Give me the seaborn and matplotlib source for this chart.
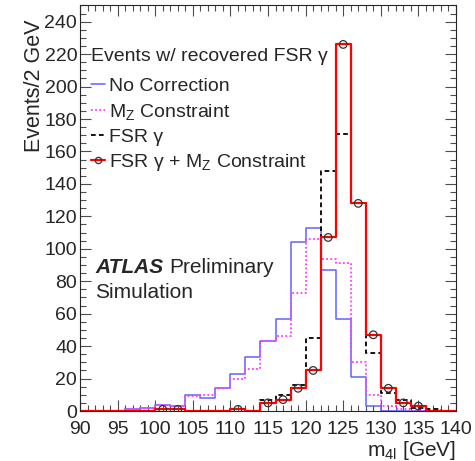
import numpy as np
import pandas as pd
import matplotlib
matplotlib.use("Agg")
import matplotlib.pyplot as plt
from matplotlib.lines import Line2D
from matplotlib.ticker import MultipleLocator
import seaborn as sns

# ---- data (2 GeV bins from 90 to 140 GeV) ----
bin_edges = list(range(90, 142, 2))
no_correction = [0, 0, 0, 1, 2, 4, 3, 10, 8, 14, 23, 33, 43, 57, 104, 113, 87, 57, 21, 3, 0, 0, 0, 0, 0]
mz_constraint = [0, 0, 0, 1, 2, 4, 3, 9, 10, 14, 20, 26, 43, 46, 73, 106, 94, 91, 30, 10, 3, 1, 0, 0, 0]
fsr_gamma = [0, 0, 0, 0, 0, 1, 1, 0, 0, 0, 1, 0, 7, 10, 16, 45, 148, 171, 128, 36, 11, 7, 2, 1, 0]
fsr_gamma_mz = [0, 0, 0, 0, 0, 1, 1, 0, 0, 0, 1, 0, 5, 7, 14, 25, 107, 226, 128, 47, 14, 5, 3, 0, 0]

legend_title = "Events w/ recovered FSR \u03b3"
series_labels = ["No Correction", "M$_{\\rm Z}$ Constraint", "FSR \u03b3",
                 "FSR \u03b3 + M$_{\\rm Z}$ Constraint"]
x_ticks = [90, 95, 100, 105, 110, 115, 120, 125, 130, 135, 140]
y_ticks = list(range(0, 241, 20))

edges = np.array(bin_edges, dtype=float)
centers = (edges[:-1] + edges[1:]) / 2
df = pd.DataFrame({
    "m4l": centers,
    "nocorr": no_correction,
    "mz": mz_constraint,
    "fsr": fsr_gamma,
    "fsrmz": fsr_gamma_mz,
})

# ---- style ----
sns.set_theme(style="ticks")
plt.rcParams["font.family"] = ["Liberation Sans", "DejaVu Sans"]
plt.rcParams["mathtext.fontset"] = "custom"
plt.rcParams["mathtext.rm"] = "Liberation Sans"
plt.rcParams["mathtext.it"] = "Liberation Sans:italic"
plt.rcParams["mathtext.bf"] = "Liberation Sans:bold"

fig = plt.figure(figsize=(4.75, 4.61), dpi=100)
ax = fig.add_axes([80 / 475, 50 / 461, 376 / 475, 405.5 / 461])

c_blue = "#6262ff"
c_mag = "#ff3cff"
c_red = "#ff0000"

def step_hist(col, **kw):
    sns.histplot(data=df, x="m4l", weights=col, bins=bin_edges, element="step",
                 fill=False, ax=ax, **kw)

step_hist("nocorr", color=c_blue, linewidth=1.1)
step_hist("mz", color=c_mag, linewidth=1.3, linestyle=(0, (1, 1.3)))
step_hist("fsr", color="black", linewidth=1.3, linestyle=(0, (2.6, 1.8)))
step_hist("fsrmz", color=c_red, linewidth=1.6)

nz = df[df["fsrmz"] > 0]
sns.scatterplot(data=nz, x="m4l", y="fsrmz", marker="o", s=30, facecolors="none",
                edgecolor="#333333", linewidth=0.9, zorder=5, ax=ax)

# ---- axes ----
ax.set_xlim(90, 140)
ax.set_ylim(0, 250)
ax.set_xticks(x_ticks)
ax.set_yticks(y_ticks)
ax.xaxis.set_minor_locator(MultipleLocator(1))
ax.yaxis.set_minor_locator(MultipleLocator(5))
ax.tick_params(which="both", direction="in", top=True, right=True, color="0.3", width=0.8)
ax.tick_params(which="major", length=8)
ax.tick_params(which="minor", length=4)
ax.tick_params(axis="x", which="major", labelsize=14, pad=7)
ax.tick_params(axis="y", which="major", labelsize=14, pad=2)
for sp in ax.spines.values():
    sp.set_color("0.15")
    sp.set_linewidth(0.8)

ax.set_xlabel("m$_{\\rm 4l}$ [GeV]", fontsize=15, ha="right")
ax.xaxis.set_label_coords(1.0, -0.068)
ax.set_ylabel("Events/2 GeV", fontsize=15.5, ha="right")
ax.yaxis.set_label_coords(-0.094, 0.965)

# ---- legend ----
handles = [
    Line2D([], [], color=c_blue, lw=1.1),
    Line2D([], [], color=c_mag, lw=1.3, linestyle=(0, (1, 1.3))),
    Line2D([], [], color="black", lw=1.3, linestyle=(0, (2.6, 1.8))),
    Line2D([], [], color=c_red, lw=1.6, marker="o", mfc="none", mec="#333333", ms=4.5, mew=0.9),
]
leg = ax.legend(handles, series_labels, title=legend_title, loc="upper left",
                bbox_to_anchor=((91 - 80) / 376, (411 - 48) / 405.5), frameon=False,
                fontsize=14, title_fontsize=14, alignment="left", borderpad=0,
                borderaxespad=0, handlelength=0.7, handletextpad=0.25,
                labelspacing=0.33, numpoints=1)
leg._legend_box.sep = 9

# ---- ATLAS label ----
ax.text(0.04, 0.355, "ATLAS", transform=ax.transAxes, fontsize=15,
        fontweight="bold", fontstyle="italic", va="center", ha="left")
ax.text(0.238, 0.355, "Preliminary", transform=ax.transAxes, fontsize=15,
        va="center", ha="left")
ax.text(0.04, 0.293, "Simulation", transform=ax.transAxes, fontsize=15,
        va="center", ha="left")

fig.savefig("out.png", dpi=100)
